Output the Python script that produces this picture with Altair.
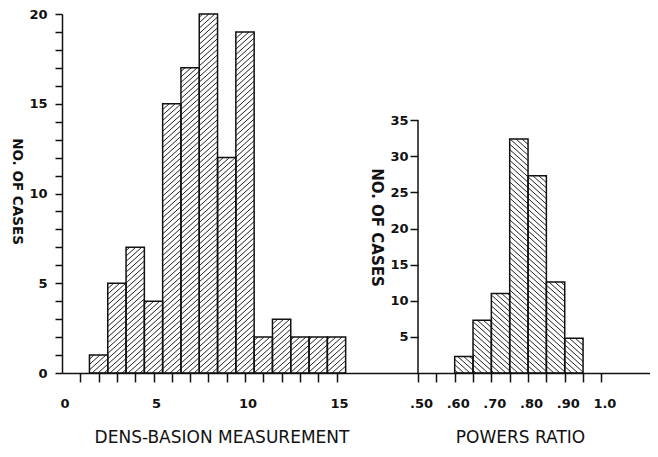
import math
import altair as alt
import pandas as pd

# ---------------- data ----------------
dens_centers = [2, 3, 4, 5, 6, 7, 8, 9, 10, 11, 12, 13, 14, 15]
dens_counts = [1, 5, 7, 4, 15, 17, 20, 12, 19, 2, 3, 2, 2, 2]
dens_bin_width = 1.0

powers_starts = [0.60, 0.65, 0.70, 0.75, 0.80, 0.85, 0.90]
powers_counts = [2.3, 7.3, 11.0, 32.4, 27.3, 12.6, 4.8]
powers_bin_width = 0.05

left_x_ticks = list(range(0, 16))
left_y_ticks = list(range(0, 21))
right_x_ticks = [0.50, 0.55, 0.60, 0.65, 0.70, 0.75, 0.80, 0.85, 0.90, 0.95, 1.00]
right_y_ticks = [5, 10, 15, 20, 25, 30, 35]
right_y_axis_top = 35

# ---------------- layout (pixels) ----------------
PLOT_W = 588
PLOT_H = 359
L_KX = 18.3                      # px per unit, left x
L_YMAX = 20
L_KY = PLOT_H / L_YMAX
R_KX = 366.8                     # px per unit, right x
R_AXIS_PX = 356                  # px position of right y axis (x = 0.50)
R_KY = 7.223                     # px per unit, right y
L_XDOM = [0, PLOT_W / L_KX]
R_XDOM = [0.5 - R_AXIS_PX / R_KX, 0.5 + (PLOT_W - R_AXIS_PX) / R_KX]
R_YDOM = [0, PLOT_H / R_KY]

HATCH_S = 5.4
HATCH_M = 0.9
FONT = "DejaVu Sans"


def hatch(x0s, x1s, heights, xmin, kx, ky, forward):
    rows = []
    for xa_d, xb_d, h_d in zip(x0s, x1s, heights):
        xa = (xa_d - xmin) * kx
        xb = (xb_d - xmin) * kx
        h = h_d * ky
        m = HATCH_M
        if forward:
            cmin, cmax = -m * xb, h - m * xa
        else:
            cmin, cmax = m * xa, h + m * xb
        for k in range(math.ceil(cmin / HATCH_S), math.floor(cmax / HATCH_S) + 1):
            c = k * HATCH_S
            if forward:
                lo = max(xa, (0 - c) / m)
                hi = min(xb, (h - c) / m)
                ya, yb = m * lo + c, m * hi + c
            else:
                lo = max(xa, (c - h) / m)
                hi = min(xb, c / m)
                ya, yb = -m * lo + c, -m * hi + c
            if hi - lo > 0.3:
                rows.append({"x0": xmin + lo / kx, "x1": xmin + hi / kx,
                             "y0": ya / ky, "y1": yb / ky})
    return pd.DataFrame(rows)


left_bars = pd.DataFrame({
    "x0": [c - dens_bin_width / 2 for c in dens_centers],
    "x1": [c + dens_bin_width / 2 for c in dens_centers],
    "y0": [0] * len(dens_counts),
    "y1": dens_counts,
})
right_bars = pd.DataFrame({
    "x0": powers_starts,
    "x1": [s + powers_bin_width for s in powers_starts],
    "y0": [0] * len(powers_counts),
    "y1": powers_counts,
})
left_hatch = hatch(left_bars.x0, left_bars.x1, left_bars.y1, L_XDOM[0], L_KX, L_KY, True)
right_hatch = hatch(right_bars.x0, right_bars.x1, right_bars.y1, R_XDOM[0], R_KX, R_KY, False)
right_yline = pd.DataFrame({"x0": [0.5], "x1": [0.5], "y0": [0], "y1": [right_y_axis_top]})

common_axis = dict(grid=False, labelFont=FONT, labelFontSize=13, labelFontWeight="bold",
                   labelColor="#111", tickColor="#111", domainColor="#111",
                   tickWidth=1.5, domainWidth=1.5, labelFlush=False, labelOverlap=False,
                   titleColor="#111")

left_x_axis = alt.Axis(values=left_x_ticks, orient="bottom",
                       labelExpr="datum.value % 5 == 0 ? datum.label : ''",
                       tickSize=9, labelPadding=15, labelOffset=2.5,
                       tickOpacity={"condition": {"test": "datum.value == 0", "value": 0}, "value": 1},
                       title="DENS-BASION MEASUREMENT", titleX=159.5, titleY=64,
                       titleBaseline="middle", titleAlign="center", titleFont=FONT,
                       titleFontSize=17, titleFontWeight="normal", **common_axis)
left_y_axis = alt.Axis(values=left_y_ticks, orient="left",
                       labelExpr="datum.value % 5 == 0 ? datum.label : ''",
                       tickSize=7, labelPadding=8,
                       title="NO. OF CASES", titleAngle=90, titleX=-39, titleY=177,
                       titleBaseline="top", titleAlign="center", titleFont=FONT,
                       titleFontSize=13.5, titleFontWeight="bold", **common_axis)
right_x_axis = alt.Axis(values=right_x_ticks, orient="bottom", domain=False,
                        labelExpr="datum.value > 0.99 ? '1.0' : (abs(datum.value * 10 - round(datum.value * 10)) < 0.01 ? '.' + format(datum.value * 100, 'd') : '')",
                        tickSize=9, labelPadding=15, labelOffset=3,
                        title="POWERS RATIO", titleX=458, titleY=64,
                        titleBaseline="middle", titleAlign="center", titleFont=FONT,
                        titleFontSize=17, titleFontWeight="normal", **common_axis)
right_y_axis = alt.Axis(values=right_y_ticks, orient="left", offset=-R_AXIS_PX, domain=False,
                        tickSize=8, labelPadding=2,
                        title="NO. OF CASES", titleAngle=90, titleX=-35, titleY=213,
                        titleBaseline="top", titleAlign="center", titleFont=FONT,
                        titleFontSize=15, titleFontWeight="bold", **common_axis)


def enc(xdom, ydom, xaxis, yaxis):
    return dict(
        x=alt.X("x0:Q", scale=alt.Scale(domain=xdom, nice=False, zero=False), axis=xaxis),
        x2="x1:Q",
        y=alt.Y("y0:Q", scale=alt.Scale(domain=ydom, nice=False, zero=False), axis=yaxis),
        y2="y1:Q",
    )


le = enc(L_XDOM, [0, L_YMAX], left_x_axis, left_y_axis)
re = enc(R_XDOM, R_YDOM, right_x_axis, right_y_axis)

left = alt.layer(
    alt.Chart(left_hatch).mark_rule(color="#222", strokeWidth=1).encode(**le),
    alt.Chart(left_bars).mark_rect(fillOpacity=0, stroke="#111", strokeWidth=1.5).encode(**le),
)
right = alt.layer(
    alt.Chart(right_hatch).mark_rule(color="#222", strokeWidth=1).encode(**re),
    alt.Chart(right_bars).mark_rect(fillOpacity=0, stroke="#111", strokeWidth=1.5).encode(**re),
    alt.Chart(right_yline).mark_rule(color="#111", strokeWidth=1.5).encode(**re),
)

chart = alt.layer(left, right).resolve_scale(x="independent", y="independent").properties(
    width=PLOT_W, height=PLOT_H, autosize="none",
    padding={"left": 54, "top": 6, "right": 0, "bottom": 76},
    background="white",
).configure_view(strokeWidth=0)

chart.save("out.html", embed_options={"renderer": "svg", "actions": False})
